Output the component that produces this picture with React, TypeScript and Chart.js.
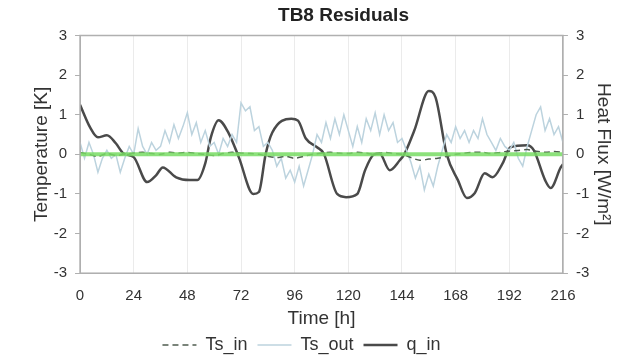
import React, { useEffect, useRef } from "react";
import { Chart, registerables } from "chart.js";

Chart.register(...registerables);

const titleText = "TB8 Residuals";
const xTicks = [0, 24, 48, 72, 96, 120, 144, 168, 192, 216];
const yTicks = [-3, -2, -1, 0, 1, 2, 3];

const tsInTimes = [0, 4, 8, 12, 16, 20, 24, 28, 32, 36, 40, 44, 48, 52, 56, 60, 64, 68, 72, 76, 80, 84, 88, 92, 96, 100, 104, 108, 112, 116, 120, 124, 128, 132, 136, 140, 144, 148, 152, 156, 160, 164, 168, 172, 176, 180, 184, 188, 192, 196, 200, 204, 208, 212, 216];
const tsInValues = [0.05, 0.0, -0.05, 0.02, -0.03, 0.0, 0.03, 0.05, 0.02, 0.0, 0.05, 0.03, 0.05, 0.02, 0.0, -0.03, 0.02, 0.05, 0.03, 0.02, 0.0, -0.05, -0.08, -0.05, -0.1, -0.05, 0.0, 0.03, 0.05, 0.03, 0.02, 0.05, 0.03, 0.0, 0.05, 0.02, 0.0, -0.08, -0.15, -0.12, -0.1, -0.05, 0.0, 0.03, 0.05, 0.05, 0.02, 0.05, 0.08, 0.1, 0.12, 0.08, 0.05, 0.07, 0.05];

const tsOutTimes = [0, 2, 4, 6, 8, 10, 12, 14, 16, 18, 20, 22, 24, 26, 28, 30, 32, 34, 36, 38, 40, 42, 44, 46, 48, 50, 52, 54, 56, 58, 60, 62, 64, 66, 68, 70, 72, 74, 76, 78, 80, 82, 84, 86, 88, 90, 92, 94, 96, 98, 100, 102, 104, 106, 108, 110, 112, 114, 116, 118, 120, 122, 124, 126, 128, 130, 132, 134, 136, 138, 140, 142, 144, 146, 148, 150, 152, 154, 156, 158, 160, 162, 164, 166, 168, 170, 172, 174, 176, 178, 180, 182, 184, 186, 188, 190, 192, 194, 196, 198, 200, 202, 204, 206, 208, 210, 212, 214, 216];
const tsOutValues = [0.3, -0.1, 0.3, 0.0, -0.45, -0.1, 0.1, -0.1, 0.0, -0.45, -0.1, 0.2, 0.0, 0.65, 0.2, 0.0, 0.3, 0.1, 0.2, 0.6, 0.3, 0.75, 0.4, 0.7, 1.05, 0.5, 0.8, 0.3, 0.6, 0.2, 0.3, 0.0, 0.4, 0.2, 0.5, 0.3, 1.3, 1.1, 1.2, 0.6, 0.7, 0.2, 0.3, 0.1, -0.3, -0.1, -0.6, -0.4, -0.7, -0.3, -0.8, -0.4, 0.0, 0.5, 0.3, 0.8, 0.4, 0.9, 0.5, 1.0, 0.6, 0.2, 0.7, 0.3, 0.9, 0.6, 1.05, 0.5, 1.0, 0.6, 0.8, 0.3, 0.4, 0.1, -0.2, -0.6, -0.3, -0.9, -0.5, -0.8, -0.3, 0.1, 0.5, 0.3, 0.7, 0.4, 0.6, 0.3, 0.6, 0.4, 0.9, 0.5, 0.3, 0.1, 0.4, 0.2, 0.1, 0.3, -0.1, -0.3, 0.2, 0.6, 1.0, 1.2, 0.6, 0.9, 0.5, 0.7, 0.3];

const qInTimes = [0, 4.5, 8, 12, 16, 19.5, 24, 30, 34, 37, 43, 49, 52.5, 56, 58.5, 62, 66.5, 71, 77.5, 80, 83, 86, 94.5, 97.5, 101, 106, 109, 115, 119, 124, 127.5, 131.5, 134, 138.5, 143, 145, 149.5, 156, 159, 164, 169, 173, 176.5, 181, 184.5, 189, 192.5, 200, 203, 208, 210.5, 215, 216];
const qInValues = [1.25, 0.68, 0.43, 0.48, 0.28, 0.02, -0.07, -0.7, -0.53, -0.33, -0.58, -0.65, -0.65, -0.23, 0.43, 0.86, 0.53, -0.07, -1.0, -0.95, 0.0, 0.55, 0.9, 0.85, 0.4, 0.18, 0.02, -1.0, -1.08, -1.0, -0.4, 0.0, 0.02, -0.4, -0.15, 0.0, 0.6, 1.6, 1.44, 0.0, -0.65, -1.1, -0.98, -0.48, -0.58, -0.23, 0.18, 0.23, 0.1, -0.65, -0.85, -0.33, -0.25];

const zeroTimes = [0, 216];
const zeroValues = [0, 0];

const pts = (xs: number[], ys: number[]) => xs.map((x, i) => ({ x, y: ys[i] }));

const framePlugin = {
  id: "frame",
  afterLayout(chart: any) {
    if (chart.titleBlock) {
      chart.titleBlock.left += 27;
      chart.titleBlock.right += 27;
    }
    if (chart.legend) {
      chart.legend.left -= 15;
      chart.legend.right -= 15;
    }
  },
  afterDatasetsDraw(chart: any) {
    const { ctx, chartArea } = chart;
    ctx.save();
    ctx.strokeStyle = "#b0b0b0";
    ctx.lineWidth = 1.5;
    ctx.strokeRect(chartArea.left, chartArea.top, chartArea.right - chartArea.left, chartArea.bottom - chartArea.top);
    ctx.restore();
  },
};

export default function App() {
  const ref = useRef<HTMLCanvasElement | null>(null);
  useEffect(() => {
    document.body.style.margin = "0";
    Chart.defaults.font.family = "'Liberation Sans', Arial, sans-serif";
    Chart.defaults.font.size = 15;
    Chart.defaults.color = "#333";
    const chart = new Chart(ref.current as HTMLCanvasElement, {
      type: "line",
      data: {
        datasets: [
          {
            label: "zero",
            data: pts(zeroTimes, zeroValues),
            borderColor: "rgba(120,220,100,0.85)",
            borderWidth: 4,
            pointRadius: 0,
            yAxisID: "y",
          },
          {
            label: "Ts_in",
            data: pts(tsInTimes, tsInValues),
            borderColor: "#4f5c4f",
            borderWidth: 1.5,
            borderDash: [6, 4],
            pointRadius: 0,
            tension: 0.3,
            yAxisID: "y",
          },
          {
            label: "Ts_out",
            data: pts(tsOutTimes, tsOutValues),
            borderColor: "#bcd3de",
            borderWidth: 1.5,
            pointRadius: 0,
            tension: 0,
            yAxisID: "y",
          },
          {
            label: "q_in",
            data: pts(qInTimes, qInValues),
            borderColor: "#4a4a4a",
            borderWidth: 2.5,
            pointRadius: 0,
            cubicInterpolationMode: "monotone",
            yAxisID: "y1",
          },
        ],
      },
      options: {
        animation: false,
        responsive: false,
        layout: { padding: { left: 8, right: 8, top: 0, bottom: 0 } },
        plugins: {
          title: {
            display: true,
            text: titleText,
            font: { size: 19, weight: "bold" },
            color: "#222",
            padding: { top: 4.5, bottom: 8.2 },
          },
          legend: {
            position: "bottom",
            labels: {
              filter: (item: any) => item.text !== "zero",
              generateLabels: (chart: any) => {
                const items = Chart.defaults.plugins.legend.labels.generateLabels(chart);
                return items.map((it: any) => {
                  const ds = chart.data.datasets[it.datasetIndex];
                  return { ...it, lineDash: ds.borderDash || [], lineWidth: ds.label === "q_in" ? 2.5 : 1.5 };
                });
              },
              usePointStyle: true,
              pointStyle: "line",
              pointStyleWidth: 34,
              boxHeight: 18,
              padding: 10,
              color: "#333",
              font: { size: 18 },
            },
          },
          tooltip: { enabled: false },
        },
        scales: {
          x: {
            type: "linear",
            min: 0,
            max: 216,
            afterBuildTicks: (s: any) => {
              s.ticks = xTicks.map((v) => ({ value: v }));
            },
            grid: { color: "#ebebeb", drawTicks: false },
            border: { color: "#b0b0b0" },
            ticks: { padding: 14, font: { size: 15 } },
            title: { display: true, text: "Time [h]", font: { size: 19 }, padding: { top: -12, bottom: -4 } },
          },
          y: {
            position: "left",
            min: -3,
            max: 3,
            afterBuildTicks: (s: any) => {
              s.ticks = yTicks.map((v) => ({ value: v }));
            },
            grid: { drawOnChartArea: false, tickLength: 5, color: "#b0b0b0" },
            border: { color: "#b0b0b0" },
            ticks: { padding: 8, font: { size: 15 } },
            title: { display: true, text: "Temperature [K]", font: { size: 19 }, padding: { top: 22.6, bottom: -7.7 } },
          },
          y1: {
            position: "right",
            min: -3,
            max: 3,
            afterBuildTicks: (s: any) => {
              s.ticks = yTicks.map((v) => ({ value: v }));
            },
            grid: { drawOnChartArea: false, tickLength: 5, color: "#b0b0b0" },
            border: { color: "#b0b0b0" },
            ticks: { padding: 8, font: { size: 15 } },
            title: { display: true, text: "Heat Flux [W/m²]", font: { size: 19 }, padding: { top: 10.6, bottom: -5.7 } },
          },
        },
      },
      plugins: [framePlugin],
    } as any);
    return () => chart.destroy();
  }, []);
  return <canvas ref={ref} width={633} height={364} style={{ display: "block" }} />;
}
